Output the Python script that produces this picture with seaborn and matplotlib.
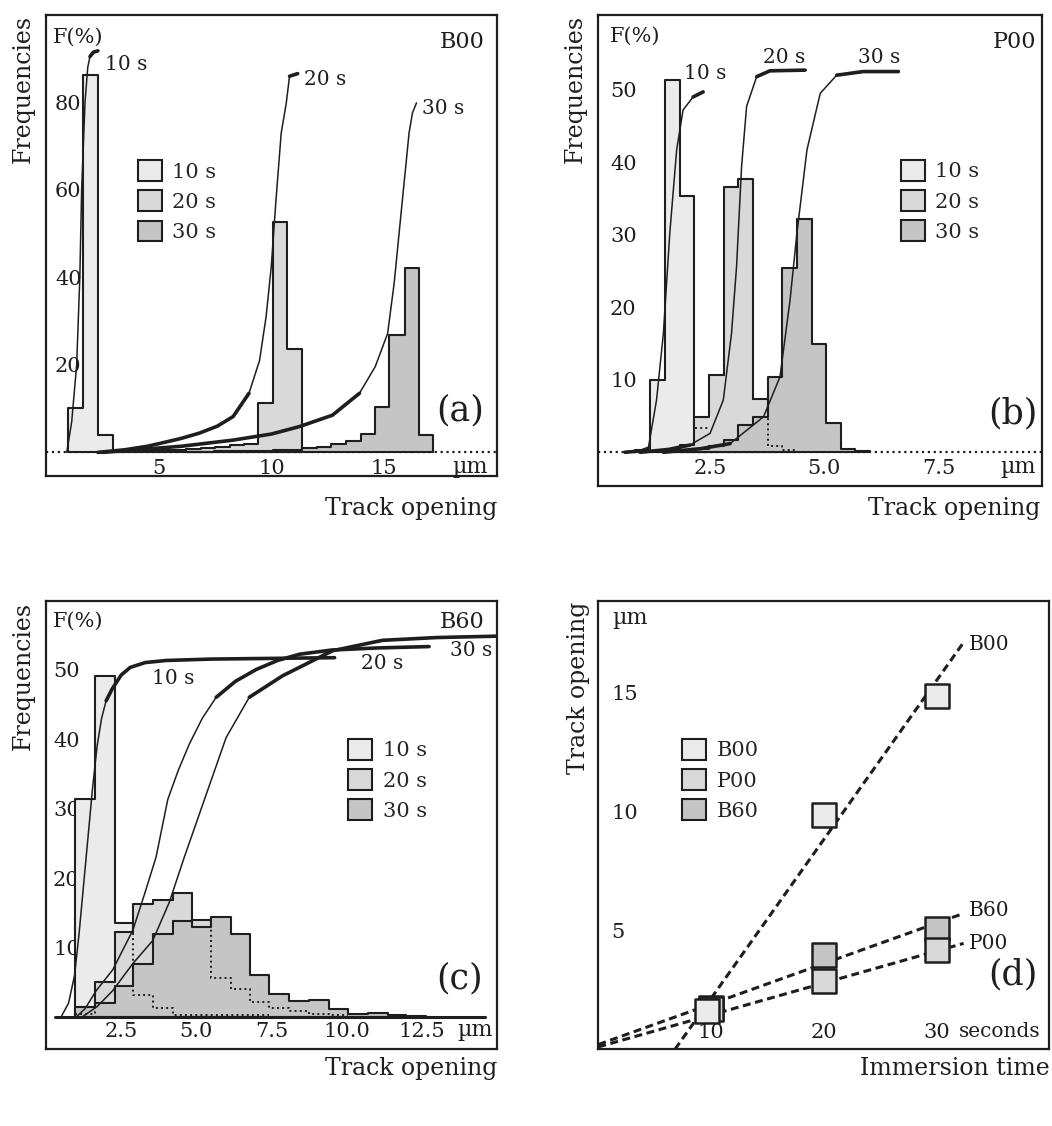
import numpy as np
import pandas as pd
import matplotlib
matplotlib.use("Agg")
import matplotlib.pyplot as plt
from matplotlib.patches import Patch
import seaborn as sns

# ---------------- data ----------------
# (a) B00 : bin edges (um) and frequencies (%)
a10_edges = [0.99, 1.63, 2.29, 2.95]
a10_freq = [10.1, 86.3, 4.0]
a20_edges = [3.02, 3.66, 4.30, 4.94, 5.58, 6.22, 6.86, 7.50, 8.14, 8.78, 9.42, 10.06, 10.69, 11.35]
a20_freq = [0.2, 0.3, 0.4, 0.5, 0.6, 0.8, 1.0, 1.3, 1.6, 2.0, 11.2, 52.6, 23.6]
a30_edges = [6.15, 6.80, 7.45, 8.10, 8.75, 9.40, 10.05, 10.70, 11.35, 12.00, 12.65, 13.30, 13.95,
             14.59, 15.22, 15.90, 16.52, 17.17]
a30_freq = [0.2, 0.2, 0.3, 0.3, 0.4, 0.4, 0.5, 0.6, 0.9, 1.3, 1.9, 2.7, 4.2, 10.3, 26.9, 42.1, 4.0]
# (a) cumulative curves
a10_cx = [0.92, 1.14, 1.36, 1.50, 1.58, 1.73, 1.85, 1.95, 2.10, 2.30]
a10_cy = [0, 7, 20, 40, 60, 80, 88, 90.5, 91.5, 91.8]
a20_cx = [2.30, 3.5, 4.5, 5.34, 6.0, 6.8, 7.6, 8.3, 9.0, 9.47, 9.76, 9.99, 10.2, 10.43, 10.65, 10.8, 11.16]
a20_cy = [0, 0.6, 1.4, 2.4, 3.2, 4.4, 6.0, 8.2, 13.5, 21, 31, 42.5, 57.8, 73, 79.7, 86, 86.6]
a30_cx = [2.5, 4.0, 6.0, 8.29, 10.0, 11.24, 12.7, 13.9, 14.6, 15.15, 15.44, 15.66, 15.88, 16.1, 16.25, 16.43]
a30_cy = [0, 0.6, 1.4, 2.8, 4.2, 5.9, 8.5, 13.5, 19.6, 27.2, 38.7, 50.2, 61.6, 73, 77.6, 79.9]

# (b) P00
b10_edges = [0.86, 1.19, 1.51, 1.84, 2.16, 2.48]
b10_freq = [0.3, 10.0, 51.3, 35.4, 3.4]
b20_edges = [1.51, 1.84, 2.16, 2.48, 2.80, 3.12, 3.44, 3.76, 4.08, 4.40]
b20_freq = [0.3, 1.0, 4.8, 10.7, 36.6, 37.7, 7.3, 0.8, 0.3]
b30_edges = [1.84, 2.16, 2.48, 2.80, 3.12, 3.44, 3.76, 4.08, 4.40, 4.72, 5.04, 5.36, 5.68, 6.00]
b30_freq = [0.3, 0.5, 0.8, 1.7, 3.8, 4.8, 10.4, 25.4, 32.2, 15.0, 4.0, 0.5, 0.2]
b10_cx = [0.64, 1.0, 1.15, 1.33, 1.48, 1.62, 1.77, 1.91, 2.13, 2.35]
b10_cy = [0, 0.2, 0.55, 7.2, 16.4, 30.2, 41.7, 47.2, 49.0, 49.7]
b20_cx = [0.97, 1.6, 2.06, 2.5, 2.79, 2.97, 3.08, 3.19, 3.30, 3.52, 3.81, 4.58]
b20_cy = [0, 0.4, 1.0, 2.6, 7.2, 16.4, 25.6, 39.4, 47.7, 51.8, 52.6, 52.7]
b30_cx = [1.48, 2.3, 2.94, 3.67, 4.03, 4.25, 4.40, 4.62, 4.91, 5.27, 5.85, 6.62]
b30_cy = [0, 0.5, 1.2, 4.9, 10.4, 21.0, 30.2, 41.7, 49.5, 52.0, 52.5, 52.5]

# (c) B60
c_edges = [0.96, 1.62, 2.28, 2.89, 3.55, 4.22, 4.86, 5.49, 6.16, 6.79, 7.43, 8.09, 8.75, 9.42,
           10.06, 10.70, 11.36, 11.98, 12.65]
c10_freq = [31.3, 49.1, 13.6, 3.2, 1.25, 0.3, 0.3, 0.3, 0.3, 0.3]
c20_freq = [0.5, 5.0, 12.3, 16.3, 16.9, 17.9, 13.9, 5.6, 4.0, 2.2, 1.25, 0.8, 0.5, 0.3]
c30_freq = [1.5, 2.0, 4.5, 7.7, 12.0, 13.8, 13.0, 14.4, 12.0, 6.1, 3.3, 2.3, 2.4, 1.1, 0.5, 0.6, 0.3, 0.2]
c10_cx = [0.5, 0.75, 0.95, 1.1, 1.25, 1.4, 1.55, 1.7, 1.85, 2.0, 2.2, 2.5, 2.8, 3.3, 4.0, 5.5, 7.5, 9.6]
c10_cy = [0, 2, 6, 12, 19, 26, 33, 39, 43, 45.5, 47.2, 49.2, 50.3, 51.0, 51.3, 51.5, 51.6, 51.7]
c20_cx = [1.0, 1.3, 1.67, 2.22, 2.89, 3.3, 3.66, 4.05, 4.4, 4.77, 5.2, 5.66, 6.3, 6.99, 7.7, 8.43, 9.5, 11.0, 12.74]
c20_cy = [0, 1.2, 3.8, 6.8, 12.5, 18, 23, 31.3, 35.5, 39.3, 43, 46, 48.3, 50, 51.3, 52.2, 52.8, 53.1, 53.3]
c30_cx = [1.2, 1.7, 2.22, 2.89, 3.55, 4.1, 4.6, 5.27, 5.99, 6.76, 7.87, 9.53, 11.19, 13.0, 15.0]
c30_cy = [0, 1.5, 3.8, 7.7, 11.0, 16.5, 23, 31.3, 40.2, 46, 49.1, 52.7, 54.2, 54.6, 54.8]

# (d) mean track opening vs immersion time
b00_t = [9.6, 20, 30]
b00_um = [1.62, 9.83, 14.85]
p00_t = [10.0, 20, 30]
p00_um = [1.68, 2.86, 4.19]
b60_t = [10.0, 20, 30]
b60_um = [1.74, 3.95, 5.07]
b00_fit_t, b00_fit_um = [6.8, 32.4], [0.0, 17.1]
b60_fit_t, b60_fit_um = [0.0, 32.4], [0.2, 5.71]
p00_fit_t, p00_fit_um = [0.0, 32.4], [0.1, 4.45]

times = ["10 s", "20 s", "30 s"]
samples = ["B00", "P00", "B60"]

# ---------------- style ----------------
sns.set_style("white")
plt.rcParams["font.family"] = ["DejaVu Serif", "DejaVu Sans"]
INK = "#1e1e1e"
GREYS = ["#ebebeb", "#d9d9d9", "#c5c5c5"]
W, H = 1052, 1126


def fx(px):
    return px / W


def fy(py):
    return 1 - py / H


def hist_frame(edges, freq):
    e = np.asarray(edges, dtype=float)
    return pd.DataFrame({"x": (e[:-1] + e[1:]) / 2, "w": list(freq)}), list(edges)


def draw_hist(ax, edges, freq, color):
    df, bins = hist_frame(edges, freq)
    sns.histplot(data=df, x="x", weights="w", bins=bins, element="step", fill=True,
                 color=color, alpha=1, edgecolor=INK, linewidth=1.5, ax=ax)


def dotted_hist(ax, edges, freq):
    df, bins = hist_frame(edges, freq)
    sns.histplot(data=df, x="x", weights="w", bins=bins, element="step", fill=False,
                 color=INK, linewidth=1.4, linestyle=":", ax=ax)


def draw_curve(ax, xs, ys, thick=()):
    df = pd.DataFrame({"x": xs, "y": ys})
    sns.lineplot(data=df, x="x", y="y", ax=ax, color=INK, lw=1.1, sort=False, estimator=None)
    for lo, hi in thick:
        sub = df[(df.x >= lo) & (df.x <= hi)]
        sns.lineplot(data=sub, x="x", y="y", ax=ax, color=INK, lw=2.6, sort=False, estimator=None)


def style_axes(ax, xlim, ylim, xticks, xlabels, yticks, ylabels, xpad, ypad):
    ax.set_xlim(*xlim)
    ax.set_ylim(*ylim)
    ax.set_xticks(xticks, labels=xlabels)
    ax.set_yticks(yticks, labels=ylabels)
    ax.tick_params(axis="both", direction="in", length=6, width=1.5, labelsize=15, colors=INK)
    ax.tick_params(axis="x", pad=xpad)
    ax.tick_params(axis="y", pad=ypad)
    for t in ax.yaxis.get_major_ticks():
        t.label1.set_horizontalalignment("left")
    for s in ax.spines.values():
        s.set_visible(True)
        s.set_linewidth(1.6)
        s.set_color(INK)
    ax.set_xlabel("")
    ax.set_ylabel("")


def add_legend(ax, labels, anchor):
    handles = [Patch(facecolor=c, edgecolor=INK, linewidth=1.5, label=l) for c, l in zip(GREYS, labels)]
    ax.legend(handles=handles, loc="upper left", bbox_to_anchor=anchor, frameon=False,
              fontsize=15, handlelength=1.15, handleheight=1.15, labelspacing=0.42,
              handletextpad=0.5, borderpad=0, borderaxespad=0)


fig = plt.figure(figsize=(W / 100, H / 100), dpi=100)

# ---------------- (a) B00 ----------------
ax = fig.add_axes([fx(46), fy(476), 451 / W, 461 / H])
ax.axhline(0, color=INK, ls=":", lw=1.6, zorder=0.5)
for e, f, c in zip([a10_edges, a20_edges, a30_edges], [a10_freq, a20_freq, a30_freq], GREYS):
    draw_hist(ax, e, f, c)
dotted_hist(ax, a10_edges, a10_freq)
dotted_hist(ax, a20_edges, a20_freq)
draw_curve(ax, a10_cx, a10_cy, thick=[(1.95, 2.3)])
draw_curve(ax, a20_cx, a20_cy, thick=[(2.3, 9.0), (10.8, 11.2)])
draw_curve(ax, a30_cx, a30_cy, thick=[(2.5, 14.0)])
style_axes(ax, (0, 20), (-5.4, 100), [5, 10, 15], ["5", "10", "15"],
           [20, 40, 60, 80], ["20", "40", "60", "80"], -12.4, -6.5)
for x, y, t in zip([3.57, 12.39, 17.63], [88.7, 85.3, 78.6], times):
    ax.text(x, y, t, fontsize=14.5, ha="center", va="center", color=INK)
add_legend(ax, times, (0.204, 0.685))
ax.text(0.016, 0.952, "F(%)", transform=ax.transAxes, fontsize=15, ha="left", va="center", color=INK)
ax.text(0.973, 0.941, "B00", transform=ax.transAxes, fontsize=16, ha="right", va="center", color=INK)
ax.text(0.918, 0.143, "(a)", transform=ax.transAxes, fontsize=25, ha="center", va="center", color=INK)
ax.text(0.94, 0.02, "\u00b5m", transform=ax.transAxes, fontsize=16, ha="center", va="center", color=INK)
fig.text(fx(23), fy(15), "Frequencies", rotation=90, fontsize=17, ha="center", va="top", color=INK)
fig.text(fx(497), fy(515), "Track opening", fontsize=17, ha="right", va="baseline", color=INK)

# ---------------- (b) P00 ----------------
ax = fig.add_axes([fx(598), fy(486), 444 / W, 471 / H])
ax.axhline(0, color=INK, ls=":", lw=1.6, zorder=0.5)
for e, f, c in zip([b10_edges, b20_edges, b30_edges], [b10_freq, b20_freq, b30_freq], GREYS):
    draw_hist(ax, e, f, c)
dotted_hist(ax, b10_edges, b10_freq)
dotted_hist(ax, b20_edges, b20_freq)
draw_curve(ax, b10_cx, b10_cy, thick=[(0.6, 1.2), (1.95, 2.4)])
draw_curve(ax, b20_cx, b20_cy, thick=[(0.9, 2.2), (3.4, 4.6)])
draw_curve(ax, b30_cx, b30_cy, thick=[(1.4, 3.0), (5.0, 6.7)])
style_axes(ax, (0.05, 9.76), (-4.65, 60.3), [2.5, 5.0, 7.5], ["2.5", "5.0", "7.5"],
           [10, 20, 30, 40, 50], ["10", "20", "30", "40", "50"], -19.6, -8.6)
for x, y, t in zip([2.40, 4.12, 6.2], [52.2, 54.5, 54.5], times):
    ax.text(x, y, t, fontsize=14.5, ha="center", va="center", color=INK)
add_legend(ax, times, (0.682, 0.692))
ax.text(0.027, 0.954, "F(%)", transform=ax.transAxes, fontsize=15, ha="left", va="center", color=INK)
ax.text(0.988, 0.943, "P00", transform=ax.transAxes, fontsize=16, ha="right", va="center", color=INK)
ax.text(0.935, 0.154, "(b)", transform=ax.transAxes, fontsize=25, ha="center", va="center", color=INK)
ax.text(0.946, 0.04, "\u00b5m", transform=ax.transAxes, fontsize=16, ha="center", va="center", color=INK)
fig.text(fx(575), fy(15), "Frequencies", rotation=90, fontsize=17, ha="center", va="top", color=INK)
fig.text(fx(1040), fy(515), "Track opening", fontsize=17, ha="right", va="baseline", color=INK)

# ---------------- (c) B60 ----------------
ax = fig.add_axes([fx(46), fy(1049), 451 / W, 448.3 / H])
ax.axhline(0, xmin=0.02, xmax=0.973, color=INK, lw=2.2, zorder=2)
for f, c in zip([c10_freq, c20_freq, c30_freq], GREYS):
    draw_hist(ax, c_edges[:len(f) + 1], f, c)
dotted_hist(ax, c_edges[:len(c10_freq) + 1], c10_freq)
dotted_hist(ax, c_edges[:len(c20_freq) + 1], c20_freq)
draw_curve(ax, c10_cx, c10_cy, thick=[(1.9, 9.6)])
draw_curve(ax, c20_cx, c20_cy, thick=[(5.5, 12.8)])
draw_curve(ax, c30_cx, c30_cy, thick=[(6.0, 15.0)])
style_axes(ax, (0, 15), (-4.6, 59.9), [2.5, 5.0, 7.5, 10.0, 12.5],
           ["2.5", "5.0", "7.5", "10.0", "12.5"],
           [10, 20, 30, 40, 50], ["10", "20", "30", "40", "50"], -19.6, -5)
for t in ax.yaxis.get_major_ticks():
    t.label1.set_bbox(dict(facecolor="white", edgecolor="none", pad=0.5))
for x, y, t in zip([4.22, 11.19, 14.13], [48.7, 50.9, 52.7], times):
    ax.text(x, y, t, fontsize=14.5, ha="center", va="center", color=INK)
add_legend(ax, times, (0.670, 0.6915))
ax.text(0.016, 0.953, "F(%)", transform=ax.transAxes, fontsize=15, ha="left", va="center", color=INK)
ax.text(0.973, 0.953, "B60", transform=ax.transAxes, fontsize=16, ha="right", va="center", color=INK)
ax.text(0.918, 0.158, "(c)", transform=ax.transAxes, fontsize=25, ha="center", va="center", color=INK)
ax.text(0.952, 0.042, "\u00b5m", transform=ax.transAxes, fontsize=16, ha="center", va="center", color=INK)
fig.text(fx(23), fy(602), "Frequencies", rotation=90, fontsize=17, ha="center", va="top", color=INK)
fig.text(fx(497), fy(1075), "Track opening", fontsize=17, ha="right", va="baseline", color=INK)

# ---------------- (d) track opening vs time ----------------
ax = fig.add_axes([fx(598.3), fy(1049.3), 451 / W, 448.6 / H])
dash = (0, (2.6, 1.5))
for ft, fu in [(b00_fit_t, b00_fit_um), (b60_fit_t, b60_fit_um), (p00_fit_t, p00_fit_um)]:
    sns.lineplot(x=ft, y=fu, ax=ax, color=INK, lw=2.2, linestyle=dash, sort=False, estimator=None, zorder=2)
for t, u, c in [(b60_t, b60_um, GREYS[2]), (p00_t, p00_um, GREYS[1]), (b00_t, b00_um, GREYS[0])]:
    sns.scatterplot(x=t, y=u, ax=ax, marker="s", s=290, color=c, edgecolor=INK, linewidth=1.8, zorder=3)
style_axes(ax, (0, 40), (0, 18.85), [10, 20, 30], ["10", "20", "30"],
           [2.5, 5, 7.5, 10, 12.5, 15], ["", "5", "", "10", "", "15"], -18.6, -9.6)
for y, t in zip([17.0, 5.85, 4.45], ["B00", "B60", "P00"]):
    ax.text(32.9, y, t, fontsize=14.5, ha="left", va="center", color=INK)
ax.text(32.0, 0.74, "seconds", fontsize=14.5, ha="left", va="center", color=INK)
handles = [Patch(facecolor=c, edgecolor=INK, linewidth=1.5, label=l) for c, l in zip(GREYS, samples)]
ax.legend(handles=handles, loc="upper left", bbox_to_anchor=(0.186, 0.6915), frameon=False,
          fontsize=15, handlelength=1.15, handleheight=1.15, labelspacing=0.42,
          handletextpad=0.5, borderpad=0, borderaxespad=0)
ax.text(0.07, 0.961, "\u00b5m", transform=ax.transAxes, fontsize=16, ha="center", va="center", color=INK)
ax.text(0.92, 0.166, "(d)", transform=ax.transAxes, fontsize=25, ha="center", va="center", color=INK)
fig.text(fx(578), fy(602), "Track opening", rotation=90, fontsize=17, ha="center", va="top", color=INK)
fig.text(fx(1050), fy(1075), "Immersion time", fontsize=17, ha="right", va="baseline", color=INK)

fig.savefig("out.png", dpi=100)
